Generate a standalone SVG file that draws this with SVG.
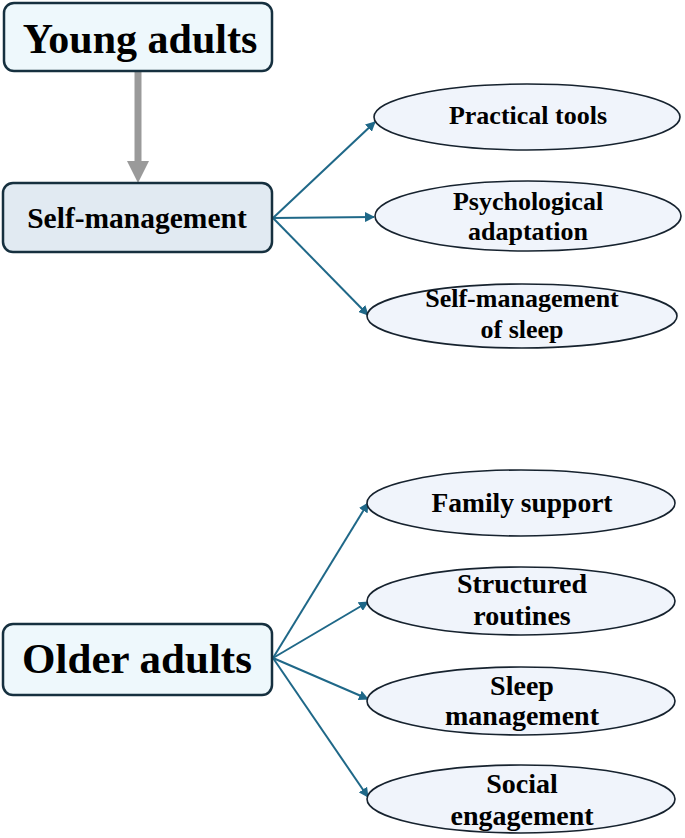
<svg xmlns="http://www.w3.org/2000/svg" width="685" height="838" viewBox="0 0 685 838">
<defs>
<style>
.box{stroke:#16303f;stroke-width:2.5}
.ell{fill:#f0f4fb;stroke:#16222e;stroke-width:1.6}
.t{font-family:"Liberation Serif","Times New Roman",serif;font-weight:bold;fill:#000;text-anchor:middle}
.c{stroke:#1f6888;stroke-width:2;fill:none;marker-end:url(#ah)}
</style>
<marker id="ah" viewBox="0 0 10 10" refX="9" refY="5" markerWidth="5" markerHeight="5" orient="auto" markerUnits="strokeWidth">
<path d="M0,0 L10,5 L0,10 z" fill="#1f6888"/>
</marker>
</defs>
<rect width="685" height="838" fill="#fff"/>
<g id="connectors">
<line x1="138" y1="72" x2="138" y2="162" stroke="#9a9a9a" stroke-width="7"/>
<path d="M127,161 L149,161 L138,183 z" fill="#9a9a9a"/>
<line class="c" x1="273" y1="218" x2="375" y2="122"/>
<line class="c" x1="273" y1="218" x2="374" y2="217"/>
<line class="c" x1="273" y1="218" x2="368" y2="315"/>
<line class="c" x1="273" y1="658" x2="368" y2="503"/>
<line class="c" x1="273" y1="658" x2="368" y2="602"/>
<line class="c" x1="273" y1="658" x2="368" y2="699"/>
<line class="c" x1="273" y1="658" x2="368" y2="797"/>
</g>
<g id="young-adults">
<rect class="box" x="4" y="3" width="268" height="68" rx="10" fill="#eef8fc"/>
<text class="t" x="140" y="53" font-size="42">Young adults</text>
</g>
<g id="self-management">
<rect class="box" x="3" y="183" width="269" height="69" rx="10" fill="#e1eaf2"/>
<text class="t" x="137" y="228" font-size="29.5">Self-management</text>
</g>
<g id="practical-tools">
<ellipse class="ell" cx="527" cy="117" rx="153" ry="33"/>
<text class="t" x="528" y="124" font-size="26">Practical tools</text>
</g>
<g id="psychological-adaptation">
<ellipse class="ell" cx="528" cy="216" rx="153" ry="35"/>
<text class="t" x="528" y="210" font-size="26">Psychological</text>
<text class="t" x="528" y="240" font-size="26">adaptation</text>
</g>
<g id="self-management-of-sleep">
<ellipse class="ell" cx="522" cy="316" rx="155" ry="32"/>
<text class="t" x="522" y="307" font-size="26">Self-management</text>
<text class="t" x="522" y="338" font-size="26">of sleep</text>
</g>
<g id="older-adults">
<rect class="box" x="3" y="624" width="269" height="71" rx="10" fill="#eef8fc"/>
<text class="t" x="137" y="673" font-size="43">Older adults</text>
</g>
<g id="family-support">
<ellipse class="ell" cx="521" cy="503" rx="154" ry="33"/>
<text class="t" x="522" y="512" font-size="27.5">Family support</text>
</g>
<g id="structured-routines">
<ellipse class="ell" cx="521" cy="601" rx="154" ry="34"/>
<text class="t" x="522" y="593" font-size="28">Structured</text>
<text class="t" x="522" y="625" font-size="28">routines</text>
</g>
<g id="sleep-management">
<ellipse class="ell" cx="521" cy="701" rx="154" ry="34"/>
<text class="t" x="522" y="695" font-size="28">Sleep</text>
<text class="t" x="522" y="725" font-size="28">management</text>
</g>
<g id="social-engagement">
<ellipse class="ell" cx="521" cy="799" rx="154" ry="34"/>
<text class="t" x="522" y="793" font-size="28">Social</text>
<text class="t" x="522" y="825" font-size="28">engagement</text>
</g>
</svg>
